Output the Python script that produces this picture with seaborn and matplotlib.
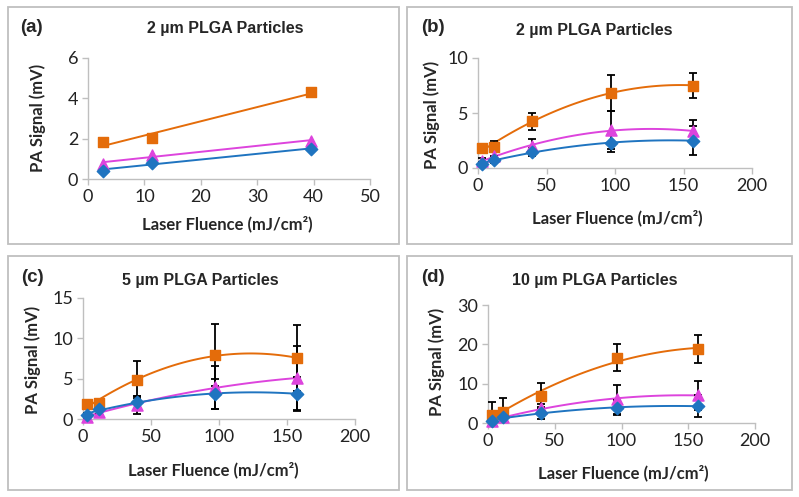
import numpy as np
import pandas as pd
import seaborn as sns
import matplotlib.pyplot as plt
from matplotlib.patches import Rectangle

# fluence values (mJ/cm2)
x_a = [2.6, 11.3, 39.5]
x_bcd = [2.8, 11.6, 39.5, 97, 157]

# panel (a) 2 um, low fluence
a_orange = [1.81, 2.02, 4.29]
a_magenta = [0.75, 1.2, 1.9]
a_blue = [0.42, 0.79, 1.5]

# panel (b) 2 um
b_orange = [1.8, 1.95, 4.25, 6.85, 7.5]
b_orange_err = [0.2, 0.5, 0.75, 1.65, 1.1]
b_magenta = [0.6, 1.1, 2.0, 3.45, 3.35]
b_magenta_err = [0.3, 0.4, 0.6, 1.75, 1.0]
b_blue = [0.35, 0.75, 1.45, 2.25, 2.5]
b_blue_err = [0.2, 0.3, 0.4, 0.8, 1.35]

# panel (c) 5 um
c_orange = [1.85, 1.95, 4.85, 7.95, 7.55]
c_orange_err = [0.2, 0.3, 2.3, 3.85, 4.1]
c_magenta = [0.3, 0.9, 1.75, 3.95, 5.05]
c_magenta_err = [0.2, 0.3, 1.1, 2.65, 4.0]
c_blue = [0.5, 1.25, 2.05, 3.1, 3.15]
c_blue_err = [0.2, 0.3, 0.8, 1.85, 2.05]

# panel (d) 10 um
d_orange = [2.0, 2.9, 6.9, 16.6, 18.8]
d_orange_err = [3.4, 3.5, 3.2, 3.5, 3.5]
d_magenta = [0.5, 1.4, 3.9, 6.0, 7.1]
d_magenta_err = [0.5, 0.6, 1.0, 3.6, 3.7]
d_blue = [0.6, 1.4, 2.5, 3.9, 4.3]
d_blue_err = [0.4, 0.5, 1.5, 1.9, 2.7]

titles = ["2 µm PLGA Particles", "2 µm PLGA Particles", "5 µm PLGA Particles", "10 µm PLGA Particles"]
letters = ["(a)", "(b)", "(c)", "(d)"]

ORANGE = "#E46C0A"
MAGENTA = "#DD44DD"
BLUE = "#1F74C0"
GRID = "#BFBFBF"

sns.set_style("white")
plt.rcParams['font.family'] = ['Lato', 'DejaVu Sans']

W, H = 799, 497
fig = plt.figure(figsize=(W / 100, H / 100), dpi=100)

def px_box(x0, y0, x1, y1):
    return [x0 / W, 1 - y1 / H, (x1 - x0) / W, (y1 - y0) / H]

# panel frames
for (x0, y0, x1, y1) in [(8, 7, 399, 244), (407, 7, 792, 244), (8, 256, 399, 490), (407, 256, 792, 490)]:
    fig.add_artist(Rectangle((x0 / W, 1 - y1 / H), (x1 - x0) / W, (y1 - y0) / H,
                             transform=fig.transFigure, fill=False, edgecolor=GRID, lw=1.3))

axes_px = [(88, 58, 370, 179), (478, 58, 752, 168), (83, 298, 355, 419), (488, 305, 755, 423)]
panels = [
    (x_a, [(a_orange, None), (a_magenta, None), (a_blue, None)], 1, (0, 50, 10), (0, 6, 2)),
    (x_bcd, [(b_orange, b_orange_err), (b_magenta, b_magenta_err), (b_blue, b_blue_err)], 2, (0, 200, 50), (0, 10, 5)),
    (x_bcd, [(c_orange, c_orange_err), (c_magenta, c_magenta_err), (c_blue, c_blue_err)], 2, (0, 200, 50), (0, 15, 5)),
    (x_bcd, [(d_orange, d_orange_err), (d_magenta, d_magenta_err), (d_blue, d_blue_err)], 2, (0, 200, 50), (0, 30, 10)),
]
styles = [(ORANGE, "s", 52), (MAGENTA, "^", 64), (BLUE, "D", 40)]

# text positions (pixels): title centre, letter left, xlabel centre, ylabel centre
title_pos = [(225, 29), (594, 31), (200, 281), (595, 281)]
letter_pos = [(20, 27), (421, 27), (21, 277), (421, 277)]
xlab_pos = [(227, 224), (617, 218), (213, 470), (623, 473)]
ylab_pos = [(38, 118), (432, 115), (33, 360), (437, 362)]

for i, (xs, series, order, xl, yl) in enumerate(panels):
    ax = fig.add_axes(px_box(*axes_px[i]))
    for (ys, err), (col, mk, sz) in zip(series, styles):
        df = pd.DataFrame({"x": xs, "y": ys})
        sns.regplot(data=df, x="x", y="y", order=order, ci=None, scatter=False, ax=ax,
                    line_kws={"color": col, "lw": 1.4})
        if err is not None:
            ax.errorbar(xs, ys, yerr=err, fmt="none", ecolor="black", elinewidth=1.3,
                        capsize=3, capthick=1.3, zorder=3)
    for (ys, err), (col, mk, sz) in zip(series, styles):
        ax.scatter(xs, ys, marker=mk, s=sz, color=col, edgecolors=col, zorder=4, clip_on=False)
    ax.set_xlim(xl[0], xl[1])
    ax.set_ylim(yl[0], yl[1])
    ax.set_xticks(np.arange(xl[0], xl[1] + 1, xl[2]))
    ax.set_yticks(np.arange(yl[0], yl[1] + 1, yl[2]))
    ax.set_xlabel("")
    ax.set_ylabel("")
    sns.despine(ax=ax)
    for s in ["left", "bottom"]:
        ax.spines[s].set_color(GRID)
        ax.spines[s].set_linewidth(1.0)
    ax.tick_params(axis="both", direction="out", length=4, width=1, color=GRID,
                   labelsize=13, labelcolor="#222222", pad=3, left=True, bottom=True)
    ax.patch.set_alpha(0)

    fig.text(title_pos[i][0] / W, 1 - title_pos[i][1] / H, titles[i], ha="center", va="center",
             fontsize=11.5, fontweight="bold", family=["Liberation Sans", "DejaVu Sans"])
    fig.text(letter_pos[i][0] / W, 1 - letter_pos[i][1] / H, letters[i], ha="left", va="center",
             fontsize=13.5, fontweight="bold", family=["Liberation Sans", "DejaVu Sans"])
    fig.text(xlab_pos[i][0] / W, 1 - xlab_pos[i][1] / H, "Laser Fluence (mJ/cm²)", ha="center",
             va="center", fontsize=12, fontweight="bold")
    fig.text(ylab_pos[i][0] / W, 1 - ylab_pos[i][1] / H, "PA Signal (mV)", ha="center",
             va="center", rotation=90, fontsize=12, fontweight="bold")

fig.savefig("out.png", dpi=100)
